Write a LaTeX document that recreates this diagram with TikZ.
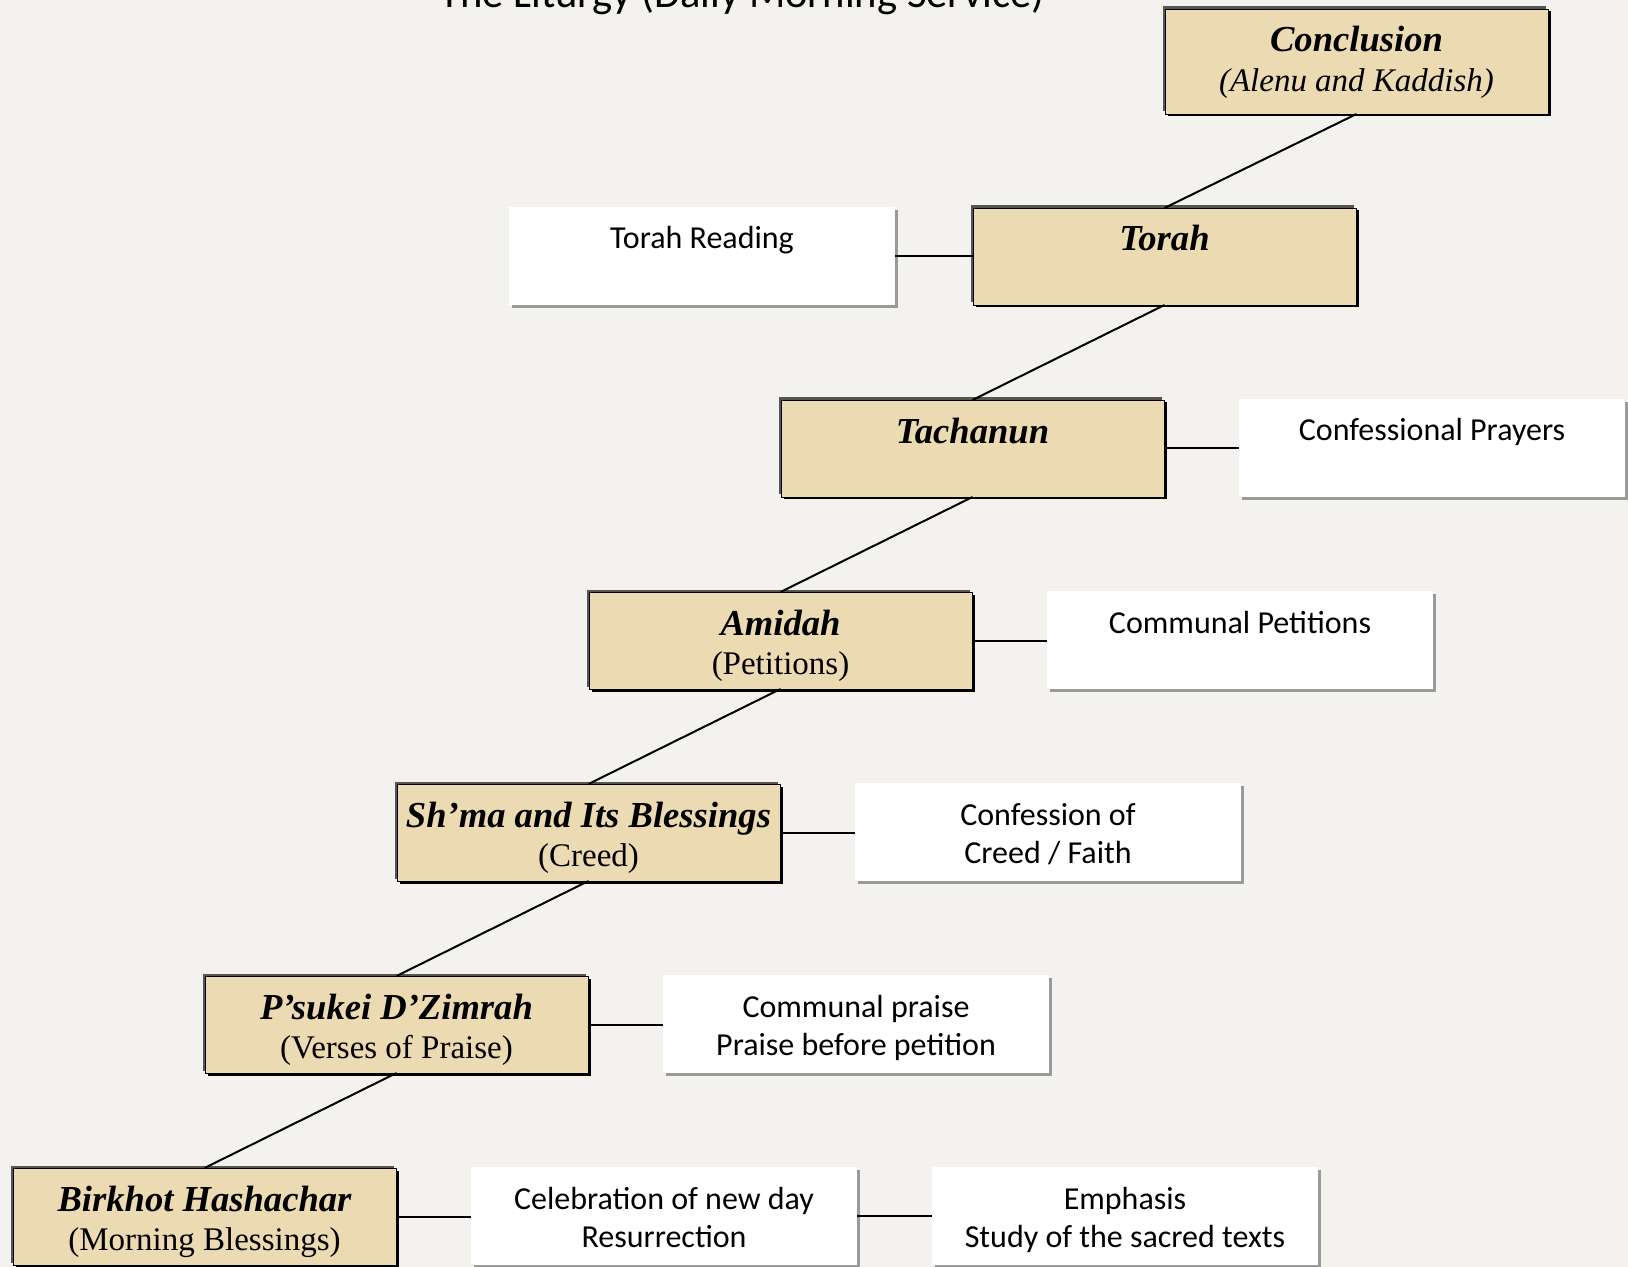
\documentclass[tikz,border=0pt]{standalone}
\usepackage{fontspec}
\setmainfont{Carlito}
\newfontfamily\cambfont{Liberation Serif}
\usetikzlibrary{shadows}
\definecolor{pagebg}{HTML}{F3F2EE}
\definecolor{parch}{HTML}{EBDAB2}
\definecolor{framegray}{HTML}{555555}
\definecolor{shadegray}{HTML}{9A9A9A}
\newcommand{\tanin}[2][48.5pt]{\parbox[c][#1][t]{191.5pt}{\centering\cambfont\fontsize{16.5}{19.75}\selectfont\rule{0pt}{21.5pt}#2}}
\newcommand{\hd}[1]{{\bfseries\itshape\fontsize{18.3}{19.75}\selectfont #1}}
\newcommand{\whin}[1]{\parbox[c][49pt][t]{193pt}{\centering\fontsize{16}{19.2}\selectfont\rule{0pt}{21pt}#1}}
\begin{document}
\begin{tikzpicture}[x=0.5pt,y=-0.5pt,
  tanbox/.style={anchor=north west, inner sep=0pt, outer sep=0pt, fill=parch, draw=black, line width=0.4pt,
    general shadow={fill=framegray, shadow xshift=-1.25pt, shadow yshift=1.25pt},
    general shadow={fill=black, shadow xshift=1.25pt, shadow yshift=-1.25pt}},
  whitebox/.style={anchor=north west, inner sep=0pt, outer sep=0pt, fill=white,
    general shadow={fill=shadegray, shadow xshift=1.5pt, shadow yshift=-1.5pt}},
  link/.style={draw=black, line width=1pt}]
\fill[pagebg] (0,0) rectangle (1628,1267);
\useasboundingbox (0,0) rectangle (1628,1267);

\node[anchor=base, font=\fontsize{21.3}{25}\selectfont] (title) at (742,8) {The Liturgy (Daily Morning Service)};

\node[tanbox] (conc)  at (1165,9)   {\tanin[52.5pt]{\hd{Conclusion}\\ \itshape (Alenu and Kaddish)}};
\node[tanbox] (torah) at (973,208)  {\tanin{\hd{Torah}}};
\node[tanbox] (tach)  at (781,400)  {\tanin{\hd{Tachanun}}};
\node[tanbox] (amid)  at (589,592)  {\tanin{\hd{Amidah}\\ (Petitions)}};
\node[tanbox] (shma)  at (397,784)  {\tanin{\hd{Sh’ma and Its Blessings}\\ (Creed)}};
\node[tanbox] (psuk)  at (205,976)  {\tanin{\hd{P’sukei D’Zimrah}\\ (Verses of Praise)}};
\node[tanbox] (birk)  at (13,1168)  {\tanin{\hd{Birkhot Hashachar}\\ (Morning Blessings)}};

\node[whitebox] (torahr) at (509,207)  {\whin{Torah Reading}};
\node[whitebox] (confp)  at (1239,399) {\whin{Confessional Prayers}};
\node[whitebox] (commp)  at (1047,591) {\whin{Communal Petitions}};
\node[whitebox] (creed)  at (855,783)  {\whin{Confession of\\ Creed / Faith}};
\node[whitebox] (praise) at (663,975)  {\whin{Communal praise\\ Praise before petition}};
\node[whitebox] (celeb)  at (471,1167) {\whin{Celebration of new day\\ Resurrection}};
\node[whitebox] (emph)   at (932,1167) {\whin{Emphasis\\ Study of the sacred texts}};

\draw[link] (conc.south) -- (torah.north);
\draw[link] (torah.south) -- (tach.north);
\draw[link] (tach.south) -- (amid.north);
\draw[link] (amid.south) -- (shma.north);
\draw[link] (shma.south) -- (psuk.north);
\draw[link] (psuk.south) -- (birk.north);

\draw[link] (torah.west) -- (torah.west -| torahr.east);
\draw[link] (tach.east) -- (tach.east -| confp.west);
\draw[link] (amid.east) -- (amid.east -| commp.west);
\draw[link] (shma.east) -- (shma.east -| creed.west);
\draw[link] (psuk.east) -- (psuk.east -| praise.west);
\draw[link] (birk.east) -- (birk.east -| celeb.west);
\draw[link] (celeb.east) -- (emph.west);
\end{tikzpicture}
\end{document}
